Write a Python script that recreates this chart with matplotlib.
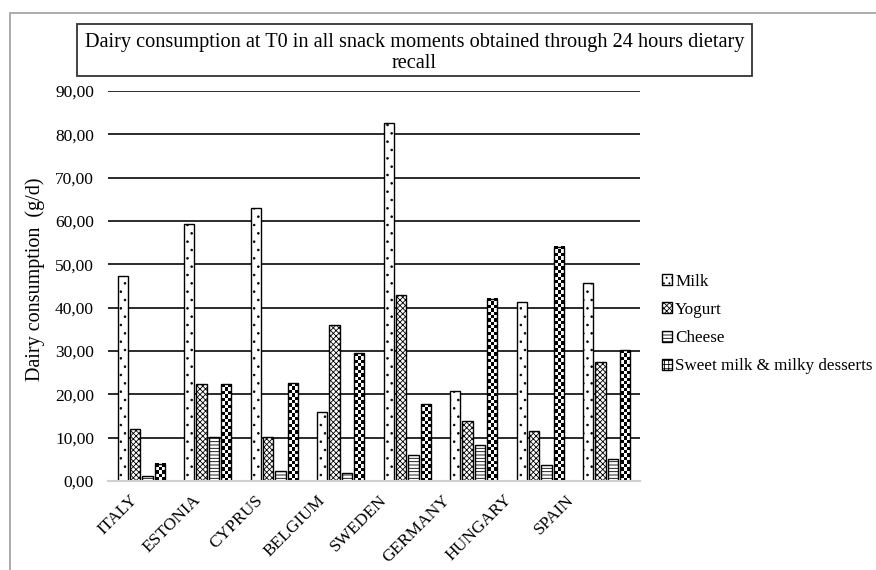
import numpy as np
import matplotlib
matplotlib.use("Agg")
import matplotlib.pyplot as plt
from matplotlib.patches import Rectangle, Patch

countries = ["ITALY", "ESTONIA", "CYPRUS", "BELGIUM", "SWEDEN", "GERMANY", "HUNGARY", "SPAIN"]
milk = [47.2, 59.4, 63.1, 15.9, 82.6, 20.8, 41.3, 45.7]
yogurt = [11.9, 22.5, 10.1, 36.1, 42.9, 13.9, 11.6, 27.5]
cheese = [1.2, 10.2, 2.3, 1.8, 5.9, 8.4, 3.6, 5.1]
sweet = [4.0, 22.3, 22.6, 29.5, 17.7, 42.0, 54.0, 30.2]
series_names = ["Milk", "Yogurt", "Cheese", "Sweet milk & milky desserts"]
yticks = np.arange(0, 91, 10)

plt.rcParams["font.family"] = ["Liberation Serif", "DejaVu Serif"]
plt.rcParams["hatch.linewidth"] = 0.6

fig = plt.figure(figsize=(8.76, 5.70), dpi=100)
ax = fig.add_axes([108 / 876, 89 / 570, 532 / 876, 390 / 570])

x = np.arange(len(countries))
step = 0.185
width = 0.155
offsets = (np.arange(4) - 1.5) * step
hatches = ["..", "xxxxxx", "-----", None]

for i, vals in enumerate([milk, yogurt, cheese]):
    ax.bar(x + offsets[i], vals, width, color="white", edgecolor="black",
           linewidth=1.0, hatch=hatches[i], zorder=3)

# sweet milk bars: checkerboard fill inside each bar
sweet_bars = ax.bar(x + offsets[3], sweet, width, color="none", edgecolor="black",
                    linewidth=1.0, zorder=4)
px_per_unit = 390 / 90
for b in sweet_bars:
    h = b.get_height()
    rows = max(1, int(round(h * px_per_unit / 3.4)))
    cols = 3
    checker = (np.add.outer(np.arange(rows), np.arange(cols)) % 2).astype(float)
    ax.imshow(checker, cmap="gray", vmin=0, vmax=1, interpolation="nearest",
              extent=(b.get_x(), b.get_x() + b.get_width(), 0, h),
              aspect="auto", zorder=3)

ax.set_xlim(-0.5, len(countries) - 0.5)
ax.set_ylim(0, 90)
ax.set_yticks(yticks)
ax.set_yticklabels([f"{v:.2f}".replace(".", ",") for v in yticks], fontsize=12.5)
ax.yaxis.grid(True, color="#1a1a1a", linewidth=1.3, zorder=0)
ax.set_axisbelow(True)
ax.tick_params(axis="y", length=0, pad=10)
ax.tick_params(axis="x", length=0, pad=8)
# category labels sit a little left of the groups, drifting like in the source
ax.set_xticks(x * 0.937 - 0.17)
ax.set_xticklabels(countries, rotation=45, ha="right", va="top",
                   rotation_mode="anchor", fontsize=12.5)
for s in ["top", "right", "left"]:
    ax.spines[s].set_visible(False)
ax.spines["bottom"].set_color("#d0d0d0")
ax.spines["bottom"].set_linewidth(1.5)
ax.spines["bottom"].set_zorder(5)

ax.set_ylabel("Dairy consumption  (g/d)", fontsize=14.5)
ax.yaxis.set_label_coords(-0.118, 0.518)

handles = [
    Patch(facecolor="white", edgecolor="black", hatch="..."),
    Patch(facecolor="white", edgecolor="black", hatch="xxxxxx"),
    Patch(facecolor="white", edgecolor="black", hatch="-----"),
    Patch(facecolor="white", edgecolor="black", hatch="++++"),
]
fig.legend(handles, series_names, loc="center left",
           bbox_to_anchor=(653 / 876, (570 - 324) / 570), frameon=False,
           fontsize=12.3, handlelength=0.6, handleheight=0.6,
           handletextpad=0.2, labelspacing=0.72, borderpad=0)

# outer frame and title box
fig.add_artist(Rectangle((10 / 876, -0.1), 1.0, (557 / 570) + 0.1,
                         transform=fig.transFigure, fill=False,
                         edgecolor="#a6a6a6", linewidth=1.3))
fig.add_artist(Rectangle((77 / 876, (570 - 76) / 570), 675 / 876, 52 / 570,
                         transform=fig.transFigure, fill=False,
                         edgecolor="#333333", linewidth=1.3))
fig.text(414.5 / 876, (570 - 53) / 570,
         "Dairy consumption at T0 in all snack moments obtained through 24 hours dietary\nrecall",
         ha="center", va="center", fontsize=14.6, linespacing=1.2)

fig.savefig("out.png", dpi=100)
